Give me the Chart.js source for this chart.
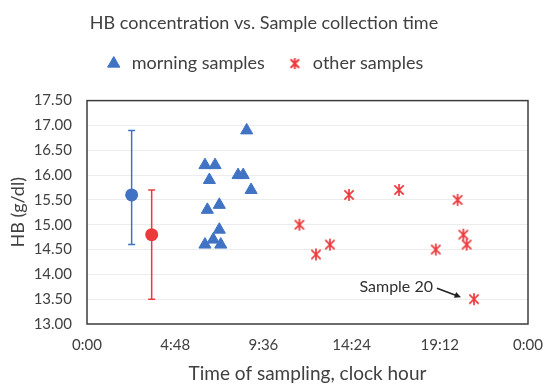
<!DOCTYPE html>
<html>
<head>
<meta charset="utf-8">
<script src="https://cdn.jsdelivr.net/npm/chart.js@4.4.1/dist/chart.umd.min.js"></script>
<style>
  html, body { margin: 0; padding: 0; background: #fff; }
  #wrap { width: 543px; height: 386px; }
</style>
</head>
<body>
<div id="wrap"><canvas id="hbChart"></canvas></div>
<script>
// sampling time in hours after midnight, HB in g/dl
const morningHours = [8.69, 6.42, 6.97, 6.66, 8.22, 8.50, 8.93, 6.55, 7.20, 7.20, 6.87, 6.42, 7.28];
const morningHb    = [16.9, 16.2, 16.2, 15.9, 16.0, 16.0, 15.7, 15.3, 15.4, 14.9, 14.7, 14.6, 14.6];

const otherHours = [11.56, 12.46, 13.22, 14.26, 16.98, 18.98, 20.17, 20.48, 20.66, 21.06];
const otherHb    = [15.0, 14.4, 14.6, 15.6, 15.7, 14.5, 15.5, 14.8, 14.6, 13.5];

// group means with whisker ends
const meanLabels = ['morning mean', 'other mean'];
const meanHours  = [2.43, 3.52];
const meanHb     = [15.6, 14.8];
const meanHigh   = [16.9, 15.7];
const meanLow    = [14.6, 13.5];

const xTicks = [0, 4.8, 9.6, 14.4, 19.2, 24];
const yTicks = [13.0, 13.5, 14.0, 14.5, 15.0, 15.5, 16.0, 16.5, 17.0, 17.5];

const calloutText = 'Sample 20';
const calloutIndex = 9;

const blue = '#4173c4';
const red = '#ec3a3c';
const textColor = '#404040';
const fontFamily = 'Lato, "Open Sans", sans-serif';

// asterisk marker: X with a vertical bar through it
function makeAsterisk(size, color, width) {
    const c = document.createElement('canvas');
    c.width = size;
    c.height = size;
    const g = c.getContext('2d');
    g.strokeStyle = color;
    g.lineWidth = width;
    const m = size / 2, r = size / 2 - 1, d = r * 0.78;
    g.beginPath();
    g.moveTo(m, m - r); g.lineTo(m, m + r);
    g.moveTo(m - d, m - d); g.lineTo(m + d, m + d);
    g.moveTo(m + d, m - d); g.lineTo(m - d, m + d);
    g.stroke();
    return c;
}
const asterisk = makeAsterisk(14, red, 1.7);
const legendAsterisk = makeAsterisk(13, red, 2);

function hourLabel(h) {
    const mins = Math.round(h * 60) % (24 * 60);
    const hh = Math.floor(mins / 60);
    const mm = mins % 60;
    return hh + ':' + String(mm).padStart(2, '0');
}

// whiskers for the mean points
const errorBars = {
    id: 'errorBars',
    beforeDatasetsDraw(chart) {
        const { ctx, scales: { x, y } } = chart;
        const colors = [blue, red];
        ctx.save();
        ctx.lineWidth = 1.5;
        meanHours.forEach((h, i) => {
            const px = x.getPixelForValue(h);
            const top = y.getPixelForValue(meanHigh[i]);
            const bot = y.getPixelForValue(meanLow[i]);
            ctx.strokeStyle = colors[i];
            ctx.beginPath();
            ctx.moveTo(px, top); ctx.lineTo(px, bot);
            ctx.moveTo(px - 3.5, top); ctx.lineTo(px + 3.5, top);
            ctx.moveTo(px - 3.5, bot); ctx.lineTo(px + 3.5, bot);
            ctx.stroke();
        });
        ctx.restore();
    }
};

// frame around the plot area
const plotFrame = {
    id: 'plotFrame',
    afterDatasetsDraw(chart) {
        const { ctx, chartArea: a } = chart;
        ctx.save();
        ctx.strokeStyle = '#3c3c3c';
        ctx.lineWidth = 1.5;
        ctx.strokeRect(a.left, a.top, a.right - a.left, a.bottom - a.top);
        ctx.restore();
    }
};

// "Sample 20" label with arrow
const callout = {
    id: 'callout',
    afterDatasetsDraw(chart) {
        const { ctx, scales: { x, y } } = chart;
        const px = x.getPixelForValue(otherHours[calloutIndex]);
        const py = y.getPixelForValue(otherHb[calloutIndex]);
        ctx.save();
        ctx.fillStyle = '#303030';
        ctx.font = '16px ' + fontFamily;
        ctx.textAlign = 'right';
        ctx.textBaseline = 'middle';
        ctx.fillText(calloutText, px - 41, py - 12);
        const x0 = px - 37, y0 = py - 11, x1 = px - 13, y1 = py - 2;
        ctx.strokeStyle = '#202020';
        ctx.lineWidth = 1.5;
        ctx.beginPath();
        ctx.moveTo(x0, y0); ctx.lineTo(x1 - 4, y1 - 1.5);
        ctx.stroke();
        const ang = Math.atan2(y1 - y0, x1 - x0);
        ctx.beginPath();
        ctx.moveTo(x1, y1);
        ctx.lineTo(x1 - 7 * Math.cos(ang - 0.45), y1 - 7 * Math.sin(ang - 0.45));
        ctx.lineTo(x1 - 7 * Math.cos(ang + 0.45), y1 - 7 * Math.sin(ang + 0.45));
        ctx.closePath();
        ctx.fillStyle = '#202020';
        ctx.fill();
        ctx.restore();
    }
};

// extra room between the legend and the plot area
const legendGap = {
    id: 'legendGap',
    afterInit(chart) {
        const legend = chart.legend;
        const fit = legend.fit.bind(legend);
        legend.fit = function() {
            fit();
            this.height += 18;
        };
    }
};

new Chart(document.getElementById('hbChart').getContext('2d'), {
    type: 'scatter',
    data: {
        datasets: [
            {
                label: 'morning samples',
                data: morningHours.map((h, i) => ({ x: h, y: morningHb[i] })),
                pointStyle: 'triangle',
                pointRadius: 7,
                backgroundColor: blue,
                borderColor: blue,
                borderWidth: 1
            },
            {
                label: 'other samples',
                data: otherHours.map((h, i) => ({ x: h, y: otherHb[i] })),
                pointStyle: asterisk,
                backgroundColor: red,
                borderColor: red
            },
            {
                label: 'means',
                data: meanHours.map((h, i) => ({ x: h, y: meanHb[i], name: meanLabels[i] })),
                pointStyle: 'circle',
                pointRadius: 6.5,
                backgroundColor: [blue, red],
                borderColor: [blue, red],
                borderWidth: 0
            }
        ]
    },
    options: {
        responsive: true,
        maintainAspectRatio: false,
        animation: false,
        layout: {
            padding: { left: 0, right: 15, top: 0, bottom: 0 }
        },
        plugins: {
            title: {
                display: true,
                text: 'HB concentration vs. Sample collection time',
                color: textColor,
                font: { family: fontFamily, size: 18, weight: 'normal' },
                padding: { top: 12, bottom: 0 }
            },
            legend: {
                position: 'top',
                labels: {
                    usePointStyle: true,
                    color: textColor,
                    font: { family: fontFamily, size: 18 },
                    padding: 21,
                    boxHeight: 10,
                    filter: item => item.datasetIndex < 2,
                    generateLabels: chart => {
                        const items = Chart.defaults.plugins.legend.labels.generateLabels(chart);
                        items.forEach(it => {
                            if (it.datasetIndex === 1) it.pointStyle = legendAsterisk;
                        });
                        return items;
                    }
                }
            },
            tooltip: { enabled: false }
        },
        scales: {
            x: {
                type: 'linear',
                min: 0,
                max: 24,
                afterBuildTicks: scale => {
                    scale.ticks = xTicks.map(v => ({ value: v }));
                },
                afterFit: scale => {
                    scale.height = 62;
                    scale.paddingLeft = 0;
                    scale.paddingRight = 0;
                },
                ticks: {
                    color: textColor,
                    font: { family: fontFamily, size: 15 },
                    padding: 4,
                    callback: value => hourLabel(value)
                },
                grid: { display: false },
                border: { display: false },
                title: {
                    display: true,
                    text: 'Time of sampling, clock hour',
                    color: textColor,
                    font: { family: fontFamily, size: 19 },
                    padding: { top: 0, bottom: 1 }
                }
            },
            y: {
                min: 13,
                max: 17.5,
                afterBuildTicks: scale => {
                    scale.ticks = yTicks.map(v => ({ value: v }));
                },
                afterFit: scale => { scale.width = 87; },
                ticks: {
                    color: textColor,
                    font: { family: fontFamily, size: 15 },
                    padding: 15,
                    callback: value => value.toFixed(2)
                },
                grid: {
                    color: '#ececec',
                    drawTicks: false
                },
                border: { display: false },
                title: {
                    display: true,
                    text: 'HB (g/dl)',
                    color: textColor,
                    font: { family: fontFamily, size: 18 },
                    padding: { top: 7, bottom: 0 }
                }
            }
        }
    },
    plugins: [legendGap, errorBars, plotFrame, callout]
});
</script>
</body>
</html>
